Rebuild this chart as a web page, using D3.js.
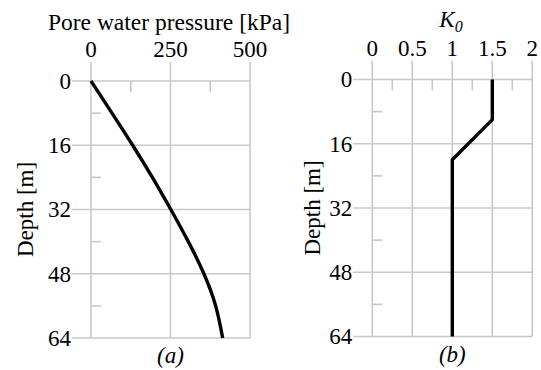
<!DOCTYPE html>
<html>
<head>
<meta charset="utf-8">
<script src="https://cdn.jsdelivr.net/npm/d3@7"></script>
<style>
  body { margin: 0; background: #fff; }
  svg text { font-family: "Liberation Serif", "Times New Roman", serif; fill: #000; }
</style>
</head>
<body>
<svg id="chart" width="541" height="370"></svg>
<script>
// panel (a): pore water pressure vs depth
const depthA = [0, 8, 16, 24, 32, 40, 48, 56, 64];
const pressure = [0, 66, 131, 193, 251, 306, 355, 392, 414];
// panel (b): K0 vs depth
const depthB = [0, 10, 20, 64];
const k0 = [1.5, 1.5, 1, 1];

const depthTicks = [0, 16, 32, 48, 64];
const depthMinor = [8, 24, 40, 56];
const pressTicks = [0, 250, 500];
const pressMinor = [125, 375];
const k0Ticks = [0, 0.5, 1, 1.5, 2];
const k0Minor = [0.25, 0.75, 1.25, 1.75];

const svg = d3.select("#chart");
svg.append("rect").attr("width", 541).attr("height", 370).attr("fill", "#fff");

const gridColor = "#c8c8c8";

function panel(opt) {
    const x = d3.scaleLinear().domain(opt.xDomain).range([opt.left, opt.right]);
    const y = d3.scaleLinear().domain([0, 64]).range([opt.top, opt.bottom]);
    const g = svg.append("g");

    // major grid + outside ticks
    g.selectAll(".vgrid").data(opt.xTicks).join("line")
        .attr("x1", d => x(d)).attr("x2", d => x(d))
        .attr("y1", opt.top - 19).attr("y2", opt.bottom)
        .attr("stroke", gridColor).attr("stroke-width", 1.6);
    g.selectAll(".hgrid").data(depthTicks).join("line")
        .attr("x1", opt.left - 19).attr("x2", opt.right)
        .attr("y1", d => y(d)).attr("y2", d => y(d))
        .attr("stroke", gridColor).attr("stroke-width", 1.6);

    // minor inside ticks
    g.selectAll(".xminor").data(opt.xMinor).join("line")
        .attr("x1", d => x(d)).attr("x2", d => x(d))
        .attr("y1", opt.top).attr("y2", opt.top + 11)
        .attr("stroke", gridColor).attr("stroke-width", 1.6);
    g.selectAll(".yminor").data(depthMinor).join("line")
        .attr("x1", opt.left).attr("x2", opt.left + 10)
        .attr("y1", d => y(d)).attr("y2", d => y(d))
        .attr("stroke", gridColor).attr("stroke-width", 1.6);

    // tick labels
    g.selectAll(".xlab").data(opt.xTicks).join("text")
        .attr("x", d => x(d)).attr("y", opt.top - 24)
        .attr("text-anchor", "middle").attr("font-size", 23)
        .text(opt.fmt);
    g.selectAll(".ylab").data(depthTicks).join("text")
        .attr("x", opt.left - 20).attr("y", d => y(d))
        .attr("dy", "0.34em")
        .attr("text-anchor", "end").attr("font-size", 23)
        .text(d => d);

    // depth label
    g.append("text")
        .attr("transform", `translate(${opt.left - opt.labelOff},${(opt.top + opt.bottom) / 2}) rotate(-90)`)
        .attr("text-anchor", "middle").attr("dy", "0.34em").attr("font-size", 23)
        .text("Depth [m]");

    // panel letter
    g.append("text")
        .attr("x", (opt.left + opt.right) / 2).attr("y", opt.bottom + 25)
        .attr("text-anchor", "middle").attr("font-size", 23).attr("font-style", "italic")
        .text(opt.letter);

    // data line
    const line = d3.line()
        .x(d => x(d[1])).y(d => y(d[0]))
        .curve(opt.curve);
    g.append("path")
        .datum(d3.zip(opt.depth, opt.values))
        .attr("d", line)
        .attr("fill", "none").attr("stroke", "#000").attr("stroke-width", 3.4);

    return { x, y, g };
}

const a = panel({
    left: 91, right: 250, top: 81, bottom: 338, labelOff: 66,
    xDomain: [0, 500], xTicks: pressTicks, xMinor: pressMinor,
    fmt: d => d, letter: "(a)",
    depth: depthA, values: pressure, curve: d3.curveNatural
});
a.g.append("text")
    .attr("x", 169).attr("y", 30)
    .attr("text-anchor", "middle").attr("font-size", 23.5)
    .text("Pore water pressure [kPa]");

const b = panel({
    left: 372.3, right: 532.3, top: 79.5, bottom: 336.5, labelOff: 60,
    xDomain: [0, 2], xTicks: k0Ticks, xMinor: k0Minor,
    fmt: d => d, letter: "(b)",
    depth: depthB, values: k0, curve: d3.curveLinear
});
const kt = b.g.append("text")
    .attr("x", 451).attr("y", 27)
    .attr("text-anchor", "middle").attr("font-size", 23).attr("font-style", "italic");
kt.append("tspan").text("K");
kt.append("tspan").attr("font-size", 16).attr("dy", 5).text("0");
</script>
</body>
</html>
